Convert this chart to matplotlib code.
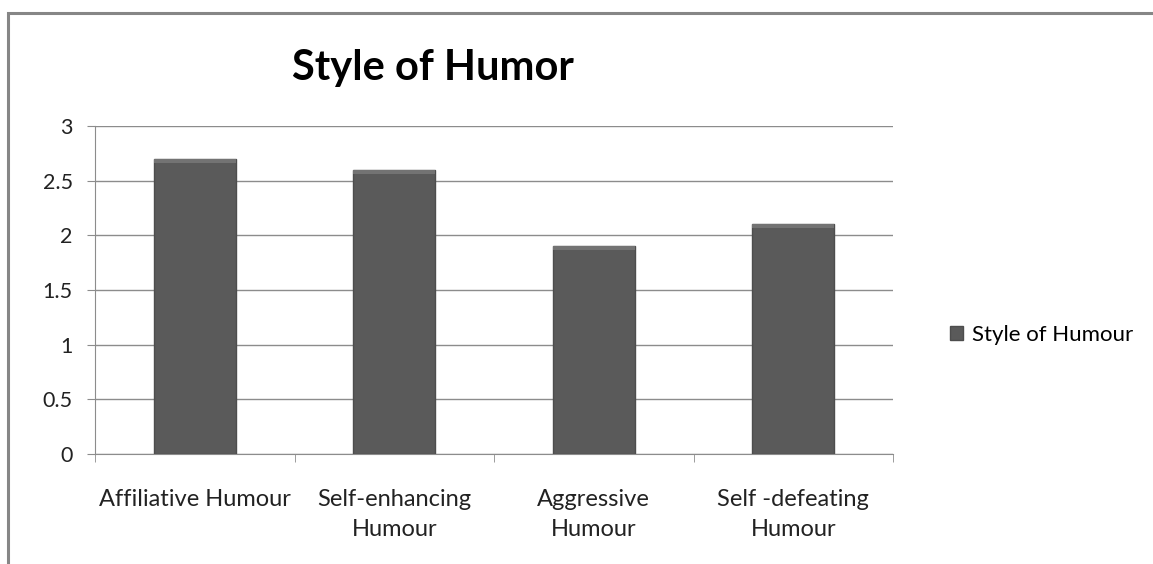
import matplotlib.pyplot as plt
from matplotlib.patches import Rectangle

categories = ["Affiliative Humour", "Self-enhancing\nHumour", "Aggressive\nHumour", "Self -defeating\nHumour"]
values = [2.7, 2.6, 1.9, 2.1]
series_name = "Style of Humour"
title = "Style of Humor"

plt.rcParams["font.family"] = ["Lato", "DejaVu Sans"]

W, H = 1153, 564
fig = plt.figure(figsize=(W / 100, H / 100), dpi=100)
ax = fig.add_axes([95 / W, 1 - 454 / H, (893 - 95) / W, (454 - 126) / H])

# outer chart frame, cut off at the right and bottom edges
fig.patches.append(Rectangle((8 / W, -0.1), 1.2, 1 - 13 / H + 0.1, transform=fig.transFigure,
                             fill=False, edgecolor="#868686", linewidth=2.2))

x = range(len(values))
bars = ax.bar(x, values, width=0.41, color="#5a5a5a", edgecolor="#4d4d4d",
              linewidth=1, label=series_name, zorder=3)
# soft bevel along the top of each bar
for b in bars:
    ax.bar(b.get_x() + b.get_width() / 2, 0.035, bottom=b.get_height() - 0.035,
           width=b.get_width(), color="#737373", linewidth=0, zorder=4)

ax.set_xlim(-0.5, len(values) - 0.5)
ax.set_ylim(0, 3)
ax.set_yticks([0, 0.5, 1, 1.5, 2, 2.5, 3])
ax.set_yticklabels(["0", "0.5", "1", "1.5", "2", "2.5", "3"])
ax.yaxis.grid(True, color="#8c8c8c", linewidth=1)
ax.set_axisbelow(True)

ax.set_xticks(list(x))
ax.set_xticklabels(categories, fontsize=17, color="#222222", linespacing=1.55)
ax.tick_params(axis="x", length=0, pad=25)
ax.set_xticks([i - 0.5 for i in range(len(values) + 1)], minor=True)
ax.tick_params(axis="x", which="minor", length=6, color="#8c8c8c")
ax.tick_params(axis="y", length=6, color="#8c8c8c", labelsize=15.5, labelcolor="#222222", pad=10)

for s in ["top", "right"]:
    ax.spines[s].set_visible(False)
for s in ["left", "bottom"]:
    ax.spines[s].set_color("#8c8c8c")

fig.text(433 / W, 1 - 68 / H, title, fontsize=30, fontweight="bold", ha="center", va="center")

fig.legend(handles=[bars], labels=[series_name], loc="center left",
           bbox_to_anchor=(930 / W, 1 - 335 / H), frameon=False, fontsize=16,
           handlelength=0.6, handleheight=0.6, handletextpad=0.4)

fig.savefig("out.png", dpi=100, facecolor="white")
